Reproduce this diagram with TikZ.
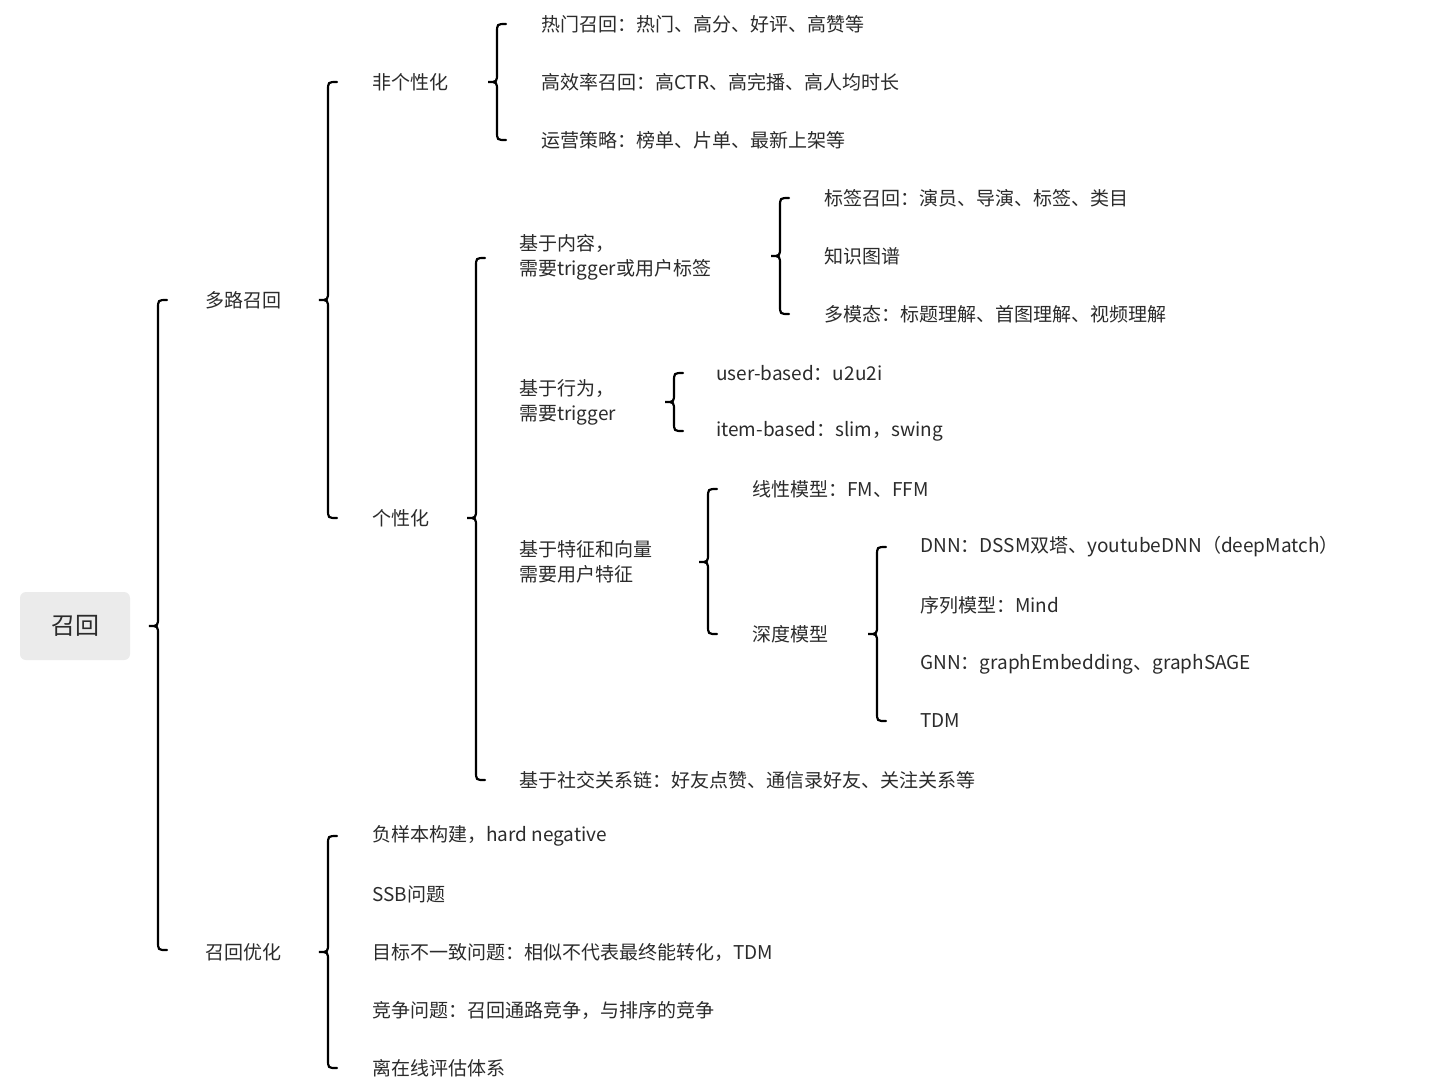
\documentclass[tikz,border=0pt]{standalone}
\usepackage{fontspec}
\setmainfont{Noto Sans CJK SC}
\definecolor{txt}{HTML}{2B2B2B}
\newcommand\brc[4]{\draw[brc] (#1+9,#2) .. controls (#1,#2) .. (#1,#2+9) -- (#1,#4-9) .. controls (#1,#4) .. (#1-9,#4) .. controls (#1,#4) .. (#1,#4+9) -- (#1,#3-9) .. controls (#1,#3) .. (#1+9,#3);}
\begin{document}
\begin{tikzpicture}[x=1pt,y=-1pt,
  lbl/.style={anchor=west,font=\fontsize{19}{25}\selectfont,text=txt,inner sep=0pt,align=left},
  brc/.style={draw=black,line width=2.2pt,line cap=round}]
\useasboundingbox[fill=white] (0,0) rectangle (1439,1080);
\node[fill=black!8,rounded corners=6pt,minimum width=110pt,minimum height=68pt,font=\fontsize{24}{28}\selectfont,text=txt] (root) at (75,626) {召回};
\brc{158}{300}{950}{626}
\node[lbl] (a) at (205,300) {多路召回};
\node[lbl] (b) at (205,952) {召回优化};
\brc{328}{82}{518}{300}
\node[lbl] (a1) at (372,82) {非个性化};
\node[lbl] (a2) at (372,518) {个性化};
\brc{497}{24}{140}{82}
\node[lbl] (a11) at (541,24) {热门召回：热门、高分、好评、高赞等};
\node[lbl] (a12) at (541,82) {高效率召回：高CTR、高完播、高人均时长};
\node[lbl] (a13) at (541,140) {运营策略：榜单、片单、最新上架等};
\brc{476}{258}{780}{518}
\node[lbl] (c1) at (519,257) {基于内容，\\需要trigger或用户标签};
\node[lbl] (c2) at (519,402) {基于行为，\\需要trigger};
\node[lbl] (c3) at (519,562) {基于特征和向量\\需要用户特征};
\node[lbl] (c4) at (519,780) {基于社交关系链：好友点赞、通信录好友、关注关系等};
\brc{780}{198}{314}{256}
\node[lbl] (d1) at (824,198) {标签召回：演员、导演、标签、类目};
\node[lbl] (d2) at (824,256) {知识图谱};
\node[lbl] (d3) at (824,314) {多模态：标题理解、首图理解、视频理解};
\brc{674}{373}{431}{402}
\node[lbl] (e1) at (716,373) {user-based：u2u2i};
\node[lbl] (e2) at (716,431) {item-based：slim，swing};
\brc{708}{489}{634}{562}
\node[lbl] (f1) at (752,489) {线性模型：FM、FFM};
\node[lbl] (f2) at (752,634) {深度模型};
\brc{877}{547}{721}{634}
\node[lbl] (g1) at (920,547) {DNN：DSSM双塔、youtubeDNN（deepMatch）};
\node[lbl] (g2) at (920,605) {序列模型：Mind};
\node[lbl] (g3) at (920,664) {GNN：graphEmbedding、graphSAGE};
\node[lbl] (g4) at (920,721) {TDM};
\brc{328}{836}{1068}{952}
\node[lbl] (h1) at (372,836) {负样本构建，hard negative};
\node[lbl] (h2) at (372,894) {SSB问题};
\node[lbl] (h3) at (372,952) {目标不一致问题：相似不代表最终能转化，TDM};
\node[lbl] (h4) at (372,1010) {竞争问题：召回通路竞争，与排序的竞争};
\node[lbl] (h5) at (372,1068) {离在线评估体系};
\end{tikzpicture}
\end{document}
